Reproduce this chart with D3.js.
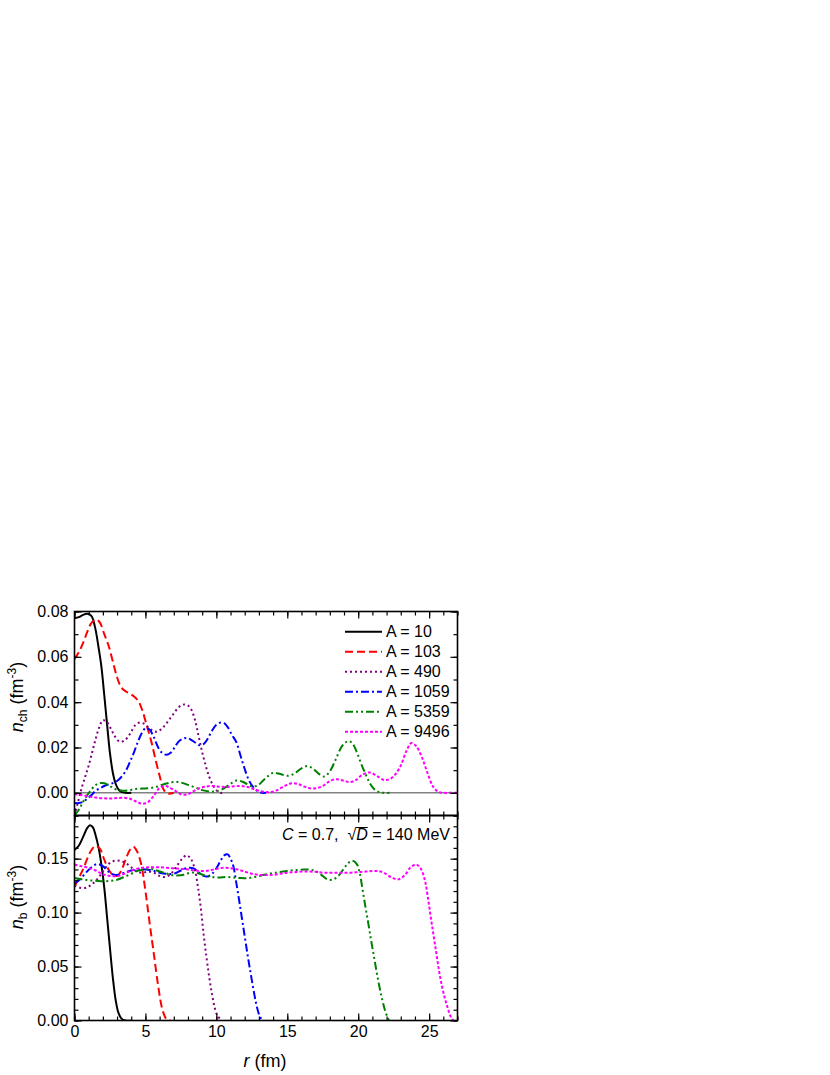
<!DOCTYPE html>
<html><head><meta charset="utf-8">
<script src="https://cdn.jsdelivr.net/npm/d3@7"></script>
<style>body{margin:0;background:#fff}</style>
</head><body>
<svg id="c" width="830" height="1075"></svg>
<script>
// ---------- DATA ----------
const seriesLabels = ["A = 10","A = 103","A = 490","A = 1059","A = 5359","A = 9496"];
const xTicks = [0,5,10,15,20,25];
const yTicksTop = [0,0.02,0.04,0.06,0.08];
const yTicksBot = [0,0.05,0.10,0.15];

// charge density n_ch (top panel)
const rCh10 = [0,0.3,0.6,0.9,1.2,1.45,1.7,1.9,2.1,2.3,2.5,2.7,2.9,3.1,3.3,3.6,4.0];
const nCh10 = [0.0770,0.0775,0.0785,0.0790,0.0780,0.0730,0.0640,0.0555,0.0430,0.0300,0.0175,0.0090,0.0040,0.0015,0.0004,0,0];
const rCh103 = [0,0.3,0.6,0.9,1.2,1.55,1.8,2.1,2.4,2.7,3.0,3.3,3.6,3.9,4.2,4.5,4.8,5.1,5.4,5.7,6.0,6.3,6.6,7.0];
const nCh103 = [0.059,0.062,0.066,0.071,0.075,0.0765,0.075,0.070,0.065,0.058,0.051,0.0465,0.0448,0.0438,0.0425,0.0405,0.036,0.0295,0.023,0.015,0.0075,0.0012,-0.0003,0];
const rCh490 = [0,0.25,0.5,0.75,1.0,1.25,1.5,1.75,2.0,2.25,2.5,2.75,3.0,3.25,3.5,3.75,4.0,4.3,4.6,4.9,5.2,5.5,5.8,6.1,6.4,6.7,7.0,7.3,7.6,7.8,8.0,8.25,8.5,8.75,9.0,9.25,9.5,9.75,10.0,10.3,10.6];
const nCh490 = [-0.010,-0.004,0.002,0.007,0.012,0.018,0.024,0.029,0.032,0.0315,0.029,0.026,0.0235,0.0225,0.023,0.0245,0.027,0.030,0.031,0.0305,0.029,0.0275,0.027,0.028,0.030,0.0325,0.035,0.0375,0.0388,0.039,0.0385,0.0365,0.032,0.025,0.018,0.012,0.007,0.0035,0.0012,0,0];
const rCh1059 = [0,0.3,0.6,0.9,1.2,1.5,1.8,2.1,2.4,2.7,3.0,3.3,3.6,3.9,4.2,4.5,4.8,5.05,5.3,5.6,5.9,6.2,6.5,6.8,7.1,7.4,7.7,7.95,8.2,8.5,8.8,9.1,9.4,9.7,10.0,10.3,10.55,10.8,11.1,11.4,11.7,12.0,12.3,12.6,12.9,13.2,13.5];
const nCh1059 = [-0.0045,-0.0045,-0.004,-0.0025,-0.001,0.001,0.002,0.003,0.0037,0.0043,0.0052,0.007,0.0095,0.0135,0.018,0.023,0.027,0.0287,0.0278,0.0245,0.020,0.0175,0.0168,0.0178,0.0205,0.023,0.024,0.0242,0.0235,0.0222,0.021,0.0215,0.024,0.0275,0.030,0.031,0.0307,0.029,0.0255,0.0225,0.0165,0.0105,0.0055,0.0025,0.0008,0,0];
const rCh5359 = [0,0.3,0.6,0.9,1.2,1.5,1.8,2.1,2.4,2.7,3.0,3.4,3.8,4.3,4.8,5.3,5.8,6.3,6.8,7.2,7.6,8.0,8.5,9.0,9.5,9.9,10.4,10.9,11.4,11.9,12.4,12.9,13.4,14.0,14.5,15.0,15.5,16.0,16.4,16.8,17.2,17.6,18.0,18.4,18.8,19.1,19.35,19.6,19.9,20.2,20.5,20.8,21.1,21.4,21.8,22.2];
const nCh5359 = [-0.010,-0.0075,-0.004,-0.001,0.0015,0.0035,0.0043,0.0042,0.0033,0.0022,0.0014,0.0009,0.0011,0.0017,0.0019,0.0021,0.0027,0.0038,0.0046,0.0048,0.0044,0.0035,0.0024,0.0012,0.0006,0.0006,0.0015,0.0035,0.0054,0.0048,0.003,0.0032,0.006,0.0088,0.0083,0.0075,0.0085,0.0108,0.0118,0.0108,0.0085,0.0072,0.0095,0.0145,0.020,0.0222,0.0228,0.0218,0.018,0.013,0.0085,0.0045,0.0018,0.0005,0,0];
const rCh9496 = [0,0.5,1.0,1.5,2.0,2.5,3.0,3.5,4.0,4.4,4.8,5.2,5.6,6.0,6.4,6.8,7.2,7.6,8.0,8.4,8.8,9.3,9.8,10.3,10.8,11.3,11.8,12.3,12.8,13.3,13.8,14.3,14.8,15.3,15.7,16.1,16.5,17.0,17.5,18.0,18.5,19.0,19.4,19.8,20.3,20.8,21.3,21.8,22.2,22.6,23.0,23.4,23.75,24.1,24.5,24.9,25.3,25.7,26.1,26.5,27];
const nCh9496 = [-0.0006,-0.0010,-0.0016,-0.0021,-0.0024,-0.0025,-0.0023,-0.0022,-0.0028,-0.0040,-0.0048,-0.0040,-0.0012,0.0022,0.0030,0.0020,0.0005,-0.0008,-0.0006,0.0008,0.0020,0.0028,0.0030,0.0027,0.0026,0.0029,0.0030,0.0024,0.0013,0.0005,0.0003,0.0012,0.0030,0.0042,0.0040,0.0030,0.0021,0.0020,0.0030,0.0052,0.0060,0.0053,0.0047,0.0055,0.0080,0.0090,0.0075,0.0057,0.0060,0.0080,0.0120,0.0185,0.0220,0.0205,0.0155,0.0085,0.0025,0.0003,0,0,0];

// baryon density n_b (bottom panel)
const rB10 = [0,0.3,0.6,0.9,1.1,1.3,1.5,1.7,1.9,2.1,2.3,2.5,2.7,2.9,3.1,3.3,3.6,4.0];
const nB10 = [0.158,0.162,0.170,0.1785,0.181,0.179,0.171,0.160,0.144,0.123,0.095,0.067,0.040,0.019,0.007,0.002,0,0];
const rB103 = [0,0.3,0.6,0.9,1.2,1.5,1.8,2.1,2.4,2.7,3.0,3.3,3.6,3.9,4.15,4.4,4.7,5.0,5.3,5.6,5.9,6.2,6.5,6.8];
const nB103 = [0.124,0.132,0.140,0.150,0.158,0.162,0.159,0.149,0.140,0.135,0.134,0.139,0.149,0.158,0.161,0.157,0.145,0.120,0.090,0.061,0.032,0.010,0.001,0];
const rB490 = [0,0.4,0.8,1.2,1.6,2.0,2.4,2.8,3.2,3.6,4.0,4.4,4.8,5.2,5.6,6.0,6.4,6.8,7.2,7.6,7.9,8.2,8.5,8.7,8.9,9.1,9.3,9.5,9.7,9.9,10.1,10.4];
const nB490 = [0.125,0.123,0.123,0.126,0.131,0.138,0.145,0.148,0.148,0.146,0.142,0.138,0.137,0.138,0.137,0.134,0.133,0.136,0.143,0.150,0.153,0.150,0.139,0.124,0.105,0.080,0.059,0.040,0.024,0.011,0.004,0];
const rB1059 = [0,0.4,0.8,1.2,1.6,2.0,2.4,2.8,3.2,3.6,4.0,4.5,5.0,5.5,6.0,6.5,7.0,7.5,8.0,8.4,8.8,9.1,9.4,9.7,10.0,10.3,10.55,10.8,11.0,11.2,11.4,11.6,11.8,12.0,12.2,12.4,12.6,12.8,13.0,13.2,13.35];
const nB1059 = [0.127,0.131,0.137,0.142,0.145,0.143,0.138,0.135,0.1355,0.1375,0.139,0.140,0.140,0.139,0.137,0.136,0.136,0.139,0.1415,0.141,0.137,0.134,0.1335,0.136,0.141,0.148,0.153,0.154,0.150,0.143,0.128,0.112,0.095,0.078,0.061,0.045,0.030,0.016,0.006,0.001,0];
const rB5359 = [0,0.5,1.0,1.5,2.0,2.5,3.0,3.5,4.0,4.5,5.0,5.4,5.8,6.3,6.8,7.2,7.7,8.2,8.7,9.2,9.7,10.2,10.7,11.2,11.7,12.2,12.7,13.2,13.7,14.2,14.7,15.2,15.7,16.2,16.6,17.0,17.4,17.8,18.2,18.6,19.0,19.3,19.6,19.9,20.1,20.3,20.5,20.7,20.9,21.1,21.3,21.5,21.7,21.9,22.1,22.2];
const nB5359 = [0.132,0.131,0.130,0.1295,0.129,0.1295,0.1305,0.133,0.136,0.139,0.140,0.1405,0.139,0.137,0.135,0.1345,0.135,0.137,0.1365,0.1345,0.133,0.1325,0.133,0.1325,0.132,0.132,0.133,0.1345,0.136,0.137,0.138,0.139,0.1395,0.140,0.1398,0.1385,0.135,0.131,0.1305,0.134,0.141,0.146,0.148,0.145,0.137,0.122,0.106,0.091,0.075,0.060,0.045,0.031,0.019,0.009,0.002,0];
const rB9496 = [0,0.5,1.0,1.5,2.0,2.5,3.0,3.5,4.0,4.5,5.0,5.5,6.0,6.5,7.0,7.5,8.0,8.5,9.0,9.5,10.0,10.5,11.0,11.5,12.0,12.5,13.0,13.5,14.0,14.5,15.0,15.5,16.0,16.5,17.0,17.5,18.0,18.5,19.0,19.5,20.0,20.5,21.0,21.4,21.8,22.3,22.8,23.3,23.7,24.1,24.4,24.7,24.9,25.1,25.3,25.5,25.7,25.9,26.1,26.3,26.5,26.7];
const nB9496 = [0.1445,0.143,0.1415,0.139,0.1355,0.134,0.1338,0.136,0.139,0.141,0.1418,0.142,0.142,0.1415,0.141,0.1405,0.140,0.139,0.1385,0.139,0.1405,0.1415,0.1412,0.140,0.138,0.136,0.135,0.1348,0.135,0.136,0.137,0.1375,0.138,0.138,0.1378,0.137,0.137,0.137,0.137,0.137,0.1375,0.138,0.1385,0.1385,0.137,0.133,0.1308,0.135,0.142,0.1445,0.141,0.130,0.115,0.097,0.080,0.063,0.046,0.032,0.021,0.012,0.004,0];

// ---------- STYLES ----------
const colors = ["#000000","#ff0000","#800080","#0000ff","#008000","#ff00ff"];
const dashes = [null,"8,4","2,3","8,3,2,3","8,3,2,3,2,3","3,2"];
const chR = [rCh10,rCh103,rCh490,rCh1059,rCh5359,rCh9496];
const chN = [nCh10,nCh103,nCh490,nCh1059,nCh5359,nCh9496];
const bR = [rB10,rB103,rB490,rB1059,rB5359,rB9496];
const bN = [nB10,nB103,nB490,nB1059,nB5359,nB9496];

const FONT = "'Liberation Sans', Arial, Helvetica, sans-serif";
const svg = d3.select('#c');
const L=74.5,R=457.5,T1=611.5,B1=815.5,T2=815.5,B2=1020.5;
const x = d3.scaleLinear().domain([0,27]).range([L,R]);
const y1 = d3.scaleLinear().domain([-0.01,0.08]).range([B1,T1]);
const y2 = d3.scaleLinear().domain([0,0.19]).range([B2,T2]);

const defs = svg.append('defs');
defs.append('clipPath').attr('id','clip1').append('rect').attr('x',L).attr('y',T1).attr('width',R-L).attr('height',B1-T1);
defs.append('clipPath').attr('id','clip2').append('rect').attr('x',L).attr('y',T2).attr('width',R-L).attr('height',B2-T2);

// zero line in top panel
svg.append('line').attr('x1',L).attr('x2',R).attr('y1',y1(0)).attr('y2',y1(0))
  .attr('stroke','#444').attr('stroke-width',1);

function drawCurves(Rs, Ns, yS, clip){
  const g = svg.append('g').attr('clip-path',`url(#${clip})`);
  const line = d3.line().x(d=>x(d[0])).y(d=>yS(d[1])).curve(d3.curveCatmullRom.alpha(0.5));
  Rs.forEach((rr,i)=>{
    const pts = rr.map((v,j)=>[v,Ns[i][j]]);
    g.append('path').attr('d',line(pts)).attr('fill','none')
      .attr('stroke',colors[i]).attr('stroke-width',2)
      .attr('stroke-dasharray',dashes[i]);
  });
}
drawCurves(chR, chN, y1, 'clip1');
drawCurves(bR, bN, y2, 'clip2');

// axes
const xMinor = d3.range(0,28);
function panelAxes(yS, top, bottom, yMajor, yMinor, xLabels){
  const mk = (axis, tr, ticks, size, fmt) => {
    const g = svg.append('g').attr('transform',tr)
      .call(axis.tickValues(ticks).tickSizeInner(size).tickSizeOuter(0).tickPadding(xLabels===undefined?6:6).tickFormat(fmt));
    g.select('.domain').remove();
    g.selectAll('line').attr('stroke','#000').attr('stroke-width',1.2);
    g.selectAll('text').attr('font-family',FONT).attr('font-size',16).attr('fill','#000');
    return g;
  };
  const none = ()=>"";
  // left
  mk(d3.axisLeft(yS), `translate(${L},0)`, yMinor, -4, none);
  mk(d3.axisLeft(yS), `translate(${L},0)`, yMajor, -7, d3.format('.2f'));
  // right
  mk(d3.axisRight(yS), `translate(${R},0)`, yMinor, -4, none);
  mk(d3.axisRight(yS), `translate(${R},0)`, yMajor, -7, none);
  // top
  mk(d3.axisTop(x), `translate(0,${top})`, xMinor, -4, none);
  mk(d3.axisTop(x), `translate(0,${top})`, xTicks, -7, none);
  // bottom
  mk(d3.axisBottom(x), `translate(0,${bottom})`, xMinor, -4, none);
  const gb = mk(d3.axisBottom(x), `translate(0,${bottom})`, xTicks, -7, xLabels ? d3.format('d') : none);
  if (xLabels) gb.call(a=>a.selectAll('text').attr('y',5));
  svg.append('rect').attr('x',L).attr('y',top).attr('width',R-L).attr('height',bottom-top)
    .attr('fill','none').attr('stroke','#000').attr('stroke-width',1.6);
}
panelAxes(y1, T1, B1, yTicksTop, d3.range(-1,9).map(i=>i/100), false);
panelAxes(y2, T2, B2, yTicksBot, d3.range(0,20).map(i=>i/100), true);

// axis titles
function yTitle(cx, cy, sub){
  const t = svg.append('text').attr('transform',`translate(${cx},${cy}) rotate(-90)`)
    .attr('text-anchor','middle').attr('font-family',FONT).attr('font-size',18).attr('fill','#000');
  t.append('tspan').attr('font-style','italic').text('n');
  t.append('tspan').attr('font-size',12).attr('dy',4).text(sub);
  t.append('tspan').attr('dy',-4).text('\u00a0(fm');
  t.append('tspan').attr('font-size',12).attr('dy',-7).text('-3');
  t.append('tspan').attr('dy',7).text(')');
}
yTitle(23, 697, 'ch');
yTitle(23, 897, 'b');

const xt = svg.append('text').attr('x',265).attr('y',1067).attr('text-anchor','middle')
  .attr('font-family',FONT).attr('font-size',18).attr('fill','#000');
xt.append('tspan').attr('font-style','italic').text('r');
xt.append('tspan').text(' (fm)');

// legend
const lg = svg.append('g');
seriesLabels.forEach((lab,i)=>{
  const yy = 631.7 + i*20;
  lg.append('line').attr('x1',345).attr('x2',382).attr('y1',yy).attr('y2',yy)
    .attr('stroke',colors[i]).attr('stroke-width',2).attr('stroke-dasharray',dashes[i]);
  lg.append('text').attr('x',386).attr('y',yy).attr('dy','0.36em')
    .attr('font-family',FONT).attr('font-size',16).attr('fill','#000').text(lab);
});

// annotation
const an = svg.append('text').attr('x',450).attr('y',840).attr('text-anchor','end')
  .attr('font-family',FONT).attr('font-size',16).attr('fill','#000').style('white-space','pre');
an.append('tspan').attr('font-style','italic').text('C');
an.append('tspan').text(' = 0.7,  \u221a');
an.append('tspan').attr('font-style','italic').text('D');
an.append('tspan').text(' = 140 MeV');
// overline over D (extent of sqrt sign and D)
const node = an.node();
const full = node.textContent;
const iS = full.indexOf('\u221a');
const eS = node.getExtentOfChar(iS), eD = node.getExtentOfChar(iS+1);
svg.append('line').attr('x1',eS.x+eS.width-0.5).attr('x2',eD.x+eD.width)
  .attr('y1',eS.y+1.5).attr('y2',eS.y+1.5).attr('stroke','#000').attr('stroke-width',1);
</script>
</body></html>
